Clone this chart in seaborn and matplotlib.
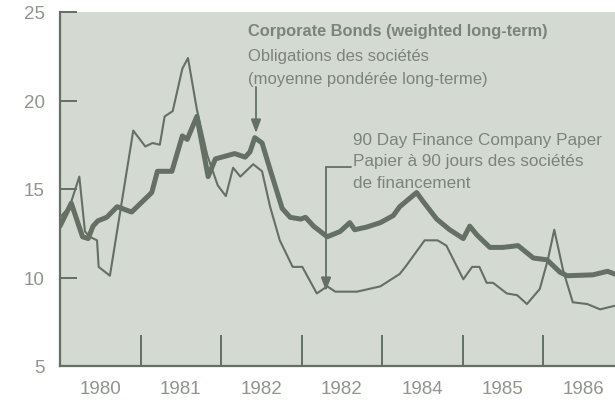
import matplotlib
matplotlib.use("Agg")
import matplotlib.pyplot as plt
import seaborn as sns
import pandas as pd

# ---- data ----
bond_dates = [1980.00, 1980.14, 1980.28, 1980.35, 1980.41, 1980.47, 1980.58, 1980.71, 1980.89,
              1981.14, 1981.21, 1981.39, 1981.52, 1981.58, 1981.70, 1981.84, 1981.93,
              1982.17, 1982.30, 1982.36, 1982.42, 1982.51, 1982.61, 1982.76, 1982.86,
              1982.99, 1983.05, 1983.15, 1983.32, 1983.48, 1983.60, 1983.66, 1983.81,
              1983.98, 1984.14, 1984.22, 1984.43, 1984.51, 1984.68, 1984.84, 1985.01,
              1985.09, 1985.18, 1985.34, 1985.50, 1985.69, 1985.88, 1986.05, 1986.21,
              1986.30, 1986.62, 1986.80, 1986.89]
bond_rates = [12.9, 14.2, 12.3, 12.2, 12.9, 13.2, 13.4, 14.0, 13.7,
              14.8, 16.0, 16.0, 18.0, 17.8, 19.1, 15.7, 16.7,
              17.0, 16.8, 17.1, 17.9, 17.6, 16.1, 13.9, 13.4,
              13.3, 13.4, 12.9, 12.3, 12.6, 13.1, 12.7, 12.85,
              13.1, 13.5, 14.0, 14.8, 14.3, 13.3, 12.7, 12.2,
              12.9, 12.4, 11.7, 11.7, 11.8, 11.1, 11.0, 10.3,
              10.1, 10.15, 10.35, 10.2]

paper_dates = [1980.00, 1980.12, 1980.24, 1980.31, 1980.37, 1980.46, 1980.48, 1980.62,
               1980.91, 1981.06, 1981.15, 1981.24, 1981.30, 1981.40, 1981.52, 1981.59,
               1981.70, 1981.83, 1981.96, 1982.06, 1982.15, 1982.24, 1982.40, 1982.51,
               1982.61, 1982.73, 1982.89, 1983.01, 1983.19, 1983.32, 1983.42, 1983.69,
               1983.98, 1984.22, 1984.29, 1984.53, 1984.69, 1984.80, 1985.01, 1985.12,
               1985.21, 1985.30, 1985.38, 1985.55, 1985.68, 1985.80, 1985.96, 1986.06,
               1986.14, 1986.25, 1986.37, 1986.55, 1986.71, 1986.89]
paper_rates = [13.4, 14.0, 15.7, 12.6, 12.3, 12.1, 10.6, 10.1,
               18.3, 17.4, 17.6, 17.5, 19.1, 19.4, 21.8, 22.4,
               19.5, 16.9, 15.2, 14.6, 16.2, 15.7, 16.4, 16.0,
               14.0, 12.1, 10.6, 10.6, 9.1, 9.5, 9.2, 9.2,
               9.5, 10.2, 10.6, 12.1, 12.1, 11.8, 9.9, 10.6,
               10.6, 9.7, 9.7, 9.1, 9.0, 8.5, 9.35, 11.0,
               12.7, 10.4, 8.6, 8.5, 8.2, 8.4]

year_labels = ["1980", "1981", "1982", "1982", "1984", "1985", "1986"]
y_ticks = [5, 10, 15, 20, 25]

bond_label = ["Corporate Bonds (weighted long-term)",
              "Obligations des sociétés",
              "(moyenne pondérée long-terme)"]
paper_label = ["90 Day Finance Company Paper",
               "Papier à 90 jours des sociétés",
               "de financement"]

# ---- style ----
sns.set_style("white")
plt.rcParams["font.family"] = ["Liberation Sans", "DejaVu Sans"]

line_c = "#637063"
text_c = "#7a857a"
tick_c = "#8d968d"
bg_c = "#d4d9d2"

fig = plt.figure(figsize=(6.15, 4.06), dpi=100)
ax = fig.add_axes([60 / 615, 1 - 367 / 406, 1 - 60 / 615, (367 - 13) / 406])
ax.set_facecolor(bg_c)

bonds = pd.DataFrame({"date": bond_dates, "rate": bond_rates})
paper = pd.DataFrame({"date": paper_dates, "rate": paper_rates})

sns.lineplot(data=paper, x="date", y="rate", ax=ax, color=line_c, lw=1.5, sort=False)
sns.lineplot(data=bonds, x="date", y="rate", ax=ax, color=line_c, lw=3.6, sort=False)

ax.set_xlim(1980, 1980 + 555 / 80.5)
ax.set_ylim(5, 25)
ax.set_xlabel("")
ax.set_ylabel("")

for s in ["top", "right"]:
    ax.spines[s].set_visible(False)
for s in ["left", "bottom"]:
    ax.spines[s].set_color(line_c)
    ax.spines[s].set_linewidth(1.6)

# x: year boundaries as inward ticks, labels at mid-year
ax.set_xticks([1981, 1982, 1983, 1984, 1985, 1986])
ax.set_xticklabels([])
ax.tick_params(axis="x", which="major", bottom=True, direction="in", length=22,
               width=1.4, color=line_c)
ax.set_xticks([1980.5 + i for i in range(len(year_labels))], minor=True)
ax.set_xticklabels(year_labels, minor=True)
ax.tick_params(axis="x", which="minor", bottom=True, length=0, pad=10,
               labelsize=13.5, labelcolor=tick_c)

ax.set_yticks(y_ticks)
ax.set_yticklabels([str(v) for v in y_ticks])
ax.tick_params(axis="y", left=True, direction="in", length=12.5, width=1.4, color=line_c,
               pad=11, labelsize=13.5, labelcolor=tick_c)
ax.get_yticklines()[0].set_visible(False)

# ---- annotations ----
def px2data(x, y):
    return 1980 + (x - 60) / 80.5, 5 + (367 - y) / 17.7

for i, (txt, yy) in enumerate(zip(bond_label, [32, 57, 80])):
    tx, ty = px2data(248, yy)
    ax.text(tx, ty, txt, fontsize=11.8 if i == 0 else 12, color=text_c,
            va="center", ha="left", fontweight="bold" if i == 0 else "normal")
for txt, yy in zip(paper_label, [140, 162, 184]):
    tx, ty = px2data(353, yy)
    ax.text(tx, ty, txt, fontsize=12.3, color=text_c, va="center", ha="left")

a0 = px2data(256, 88)
a1 = px2data(256, 134)
ax.annotate("", xy=a1, xytext=a0,
            arrowprops=dict(arrowstyle="-|>,head_length=0.8,head_width=0.3",
                            color=line_c, lw=1.3, shrinkA=0, shrinkB=0))

c0 = px2data(351, 168)
c1 = px2data(326, 168)
c2 = px2data(326, 292)
ax.plot([c0[0], c1[0]], [c0[1], c1[1]], color=line_c, lw=1.3)
ax.annotate("", xy=c2, xytext=c1,
            arrowprops=dict(arrowstyle="-|>,head_length=0.8,head_width=0.3",
                            color=line_c, lw=1.3, shrinkA=0, shrinkB=0))

fig.savefig("out.png", dpi=100, facecolor="white")
